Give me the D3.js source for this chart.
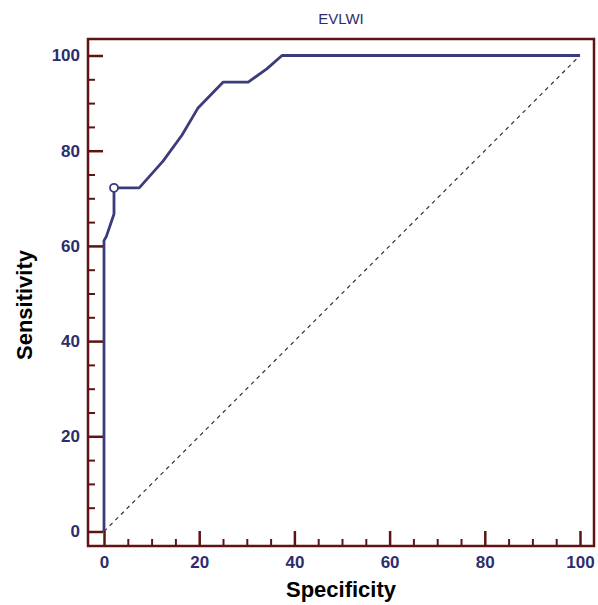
<!DOCTYPE html>
<html>
<head>
<meta charset="utf-8">
<script src="https://cdn.jsdelivr.net/npm/d3@7"></script>
<style>
  body { margin: 0; background: #fff; }
  svg { display: block; font-family: "Liberation Sans", Arial, sans-serif; }
</style>
</head>
<body>
<div id="chart-area"><svg></svg></div>
<script>
const CHART_SIZE = { width: 598, height: 605 };
const FRAME = { left: 88, top: 39, right: 594, bottom: 546 };

// ROC curve points (100 - specificity, sensitivity)
const fpr = [0, 0, 0.5, 2.1, 2.1, 7.4, 12.4, 16.4, 19.7, 25.0, 30.3, 34.2, 37.4, 100];
const tpr = [0, 61.1, 62.0, 66.7, 72.2, 72.2, 77.8, 83.3, 88.9, 94.4, 94.4, 97.2, 100, 100];
const criterionPoint = [2.1, 72.2];
const majorTicks = [0, 20, 40, 60, 80, 100];
const minorTicks = [5, 10, 15, 25, 30, 35, 45, 50, 55, 65, 70, 75, 85, 90, 95];

const AXIS_COLOR = "#5e1414";
const LABEL_COLOR = "#2d2d6e";
const CURVE_COLOR = "#3c3c7a";

const x = d3.scaleLinear().domain([0, 100]).range([104, 580]);
const y = d3.scaleLinear().domain([0, 100]).range([531.5, 55.5]);

const svg = d3.select("#chart-area svg")
  .attr("width", CHART_SIZE.width)
  .attr("height", CHART_SIZE.height);

// diagonal reference line
svg.append("line")
  .attr("x1", x(0)).attr("y1", y(0))
  .attr("x2", x(100)).attr("y2", y(100))
  .attr("stroke", "#333")
  .attr("stroke-width", 1.2)
  .attr("stroke-dasharray", "4,4");

// ROC curve
const points = fpr.map((d, i) => [d, tpr[i]]);
svg.append("path")
  .datum(points)
  .attr("fill", "none")
  .attr("stroke", CURVE_COLOR)
  .attr("stroke-width", 2.8)
  .attr("stroke-linejoin", "round")
  .attr("d", d3.line().x(d => x(d[0])).y(d => y(d[1])));

svg.append("circle")
  .attr("cx", x(criterionPoint[0]))
  .attr("cy", y(criterionPoint[1]))
  .attr("r", 4)
  .attr("fill", "#fff")
  .attr("stroke", CURVE_COLOR)
  .attr("stroke-width", 1.8);

// frame
svg.append("rect")
  .attr("x", FRAME.left).attr("y", FRAME.top)
  .attr("width", FRAME.right - FRAME.left)
  .attr("height", FRAME.bottom - FRAME.top)
  .attr("fill", "none")
  .attr("stroke", AXIS_COLOR)
  .attr("stroke-width", 2.5);

const styleAxis = (g, size) => {
  g.select(".domain").remove();
  g.selectAll(".tick line").attr("stroke", AXIS_COLOR).attr("stroke-width", size);
  g.selectAll(".tick text")
    .attr("fill", LABEL_COLOR)
    .attr("font-size", 17)
    .attr("font-weight", "bold");
};

// x axis
svg.append("g")
  .attr("transform", `translate(0,${FRAME.bottom})`)
  .call(d3.axisBottom(x).tickValues(majorTicks).tickSizeInner(-15).tickSizeOuter(0).tickPadding(10))
  .call(g => styleAxis(g, 2.5));
svg.append("g")
  .attr("transform", `translate(0,${FRAME.bottom})`)
  .call(d3.axisBottom(x).tickValues(minorTicks).tickSizeInner(-7).tickSizeOuter(0).tickFormat(""))
  .call(g => styleAxis(g, 2));

// y axis
svg.append("g")
  .attr("transform", `translate(${FRAME.left},0)`)
  .call(d3.axisLeft(y).tickValues(majorTicks).tickSizeInner(-15).tickSizeOuter(0).tickPadding(8))
  .call(g => styleAxis(g, 2.5));
svg.append("g")
  .attr("transform", `translate(${FRAME.left},0)`)
  .call(d3.axisLeft(y).tickValues(minorTicks).tickSizeInner(-7).tickSizeOuter(0).tickFormat(""))
  .call(g => styleAxis(g, 2));

// titles
svg.append("text")
  .attr("x", (FRAME.left + FRAME.right) / 2)
  .attr("y", 24)
  .attr("text-anchor", "middle")
  .attr("fill", LABEL_COLOR)
  .attr("font-size", 15)
  .text("EVLWI");

svg.append("text")
  .attr("x", (FRAME.left + FRAME.right) / 2)
  .attr("y", 597)
  .attr("text-anchor", "middle")
  .attr("font-size", 22)
  .attr("font-weight", "bold")
  .text("Specificity");

svg.append("text")
  .attr("transform", "translate(32,305) rotate(-90)")
  .attr("text-anchor", "middle")
  .attr("font-size", 22)
  .attr("font-weight", "bold")
  .text("Sensitivity");
</script>
</body>
</html>
